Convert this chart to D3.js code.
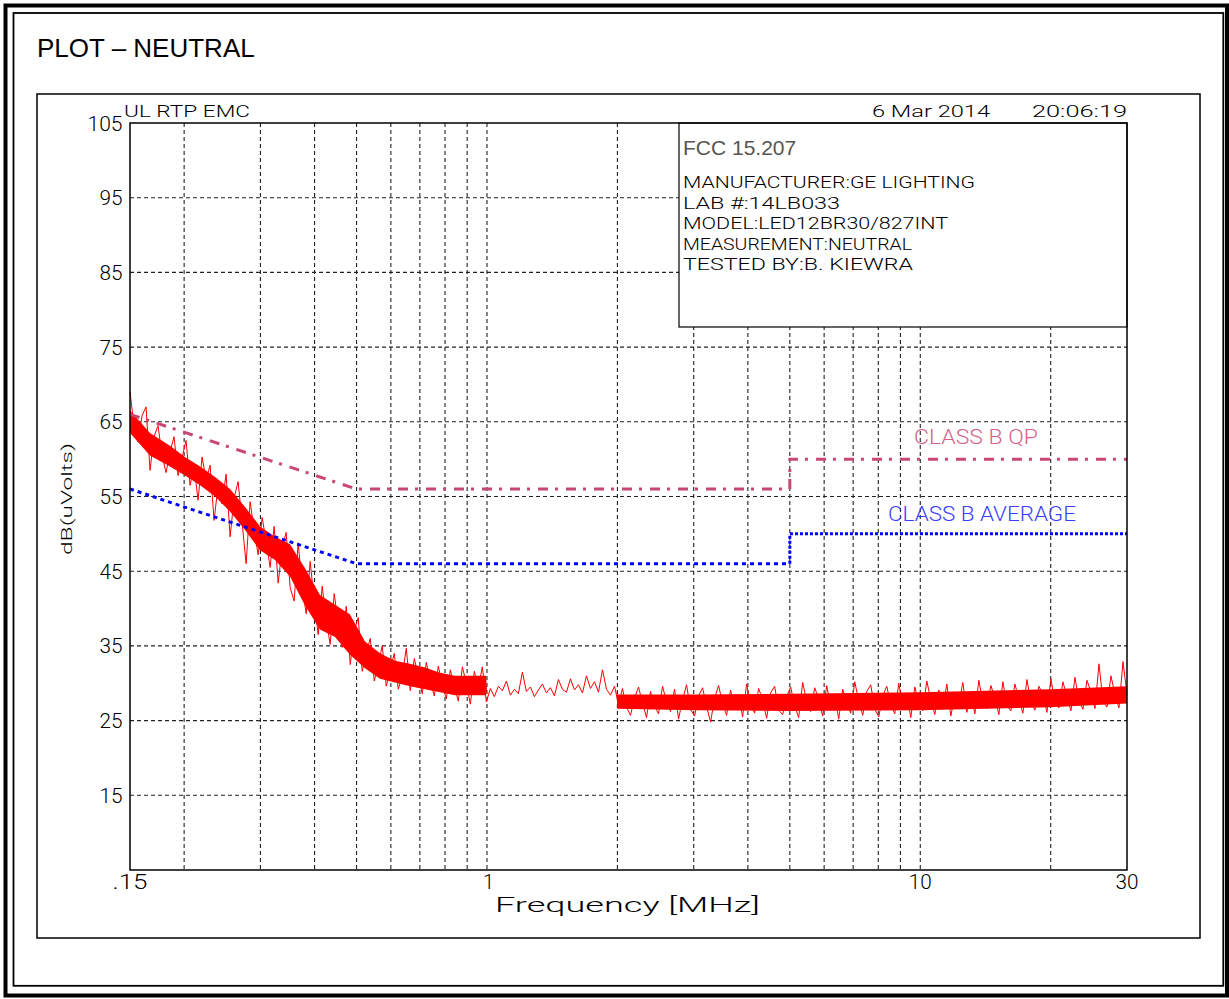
<!DOCTYPE html>
<html>
<head>
<meta charset="utf-8">
<script src="https://cdn.jsdelivr.net/npm/d3@7"></script>
<style>
  html, body { margin: 0; padding: 0; background: #fff; }
  svg { display: block; }
</style>
</head>
<body>
<svg id="chart"></svg>
<script>
const width = 1229;
const height = 999;

// axis ticks
const yTicks = [15, 25, 35, 45, 55, 65, 75, 85, 95, 105];
const xTickValues = [0.15, 1, 10, 30];
const xTickLabels = [".15", "1", "10", "30"];
const xGrid = [0.2, 0.3, 0.4, 0.5, 0.6, 0.7, 0.8, 0.9, 1, 2, 3, 4, 5, 6, 7, 8, 9, 10, 20];

// FCC 15.207 class B limits
const qpMHz = [0.15, 0.5, 5, 5, 30];
const qpDb = [66, 56, 56, 60, 60];
const avgMHz = [0.15, 0.5, 5, 5, 30];
const avgDb = [56, 46, 46, 50, 50];

// measured trace (peak detector), points spread over the sweep 0.15 - 30 MHz
const sweepStart = 0.15;
const sweepStop = 30;
const traceDb = [
  69, 64.5, 62.3, 65.8, 67, 58.5, 63, 64.5, 60.5, 58.2,
  61, 63, 57.8, 60.2, 62.5, 56.5, 59, 54.5, 60.3, 57.2,
  59.2, 51.8, 56.5, 54, 58, 49.6, 54.8, 57, 51.5, 46,
  54.3, 50.5, 47.2, 52.2, 49, 45.5, 51, 43.4, 48, 50.2,
  42.8, 41, 48.8, 43, 39.3, 46.3, 41, 36.5, 43, 38.5,
  35.2, 42, 38, 34.8, 40.3, 32.5, 37, 38.8, 31.6, 34,
  36, 30.3, 32.5, 35, 29.6, 31.8, 34, 29.2, 31, 34.7,
  29, 33.3, 31, 28.6, 32.8, 30.2, 28.3, 32.3, 29.8, 27.9,
  31.8, 29.5, 27.6, 32.2, 30, 27.2, 31.6, 29.4, 32.2, 27.5,
  29.3, 28.2, 29.6, 29, 30.3, 28.4, 29.2, 28.6, 31.5, 28.9,
  29.5, 28.2, 29.1, 29.9, 28.7, 29.4, 28.3, 30.5, 29.2, 28.8,
  30.6, 29.1, 29.8, 28.7, 31, 29.3, 30.2, 28.8, 31.8, 29.2,
  28.4, 29.6, 27.2, 29.3, 26.8, 25.7, 28, 29.5, 27.4, 25.4,
  28.9, 27, 25.9, 29.6, 27.5, 26.2, 29.2, 25.2, 27.8, 29.8,
  26.5, 25.6, 28.3, 29.4, 26.9, 24.8, 28, 29.7, 27.3, 25.7,
  29.1, 26.6, 28.5, 25.5, 29.9, 27.1, 26, 29.3, 27.8, 25.3,
  28.7, 29.6, 26.4, 25.8, 28.2, 29.5, 27, 25.4, 30.1, 27.6,
  26.2, 29.4, 27.9, 25.6, 29.7, 26.8, 28.4, 25.2, 29.2, 27.3,
  26, 30.2, 27.7, 25.7, 28.9, 29.8, 26.5, 25.5, 28.3, 29.6,
  27.2, 25.9, 30, 26.9, 28.6, 25.4, 29.5, 27.5, 26.3, 30.3,
  27.8, 25.8, 29.1, 26.7, 29.9, 25.6, 28.4, 27.2, 30.1, 26.1,
  28.8, 25.9, 30.4, 27.4, 26.6, 29.7, 28.1, 25.8, 30.2, 27,
  26.3, 29.9, 27.9, 26, 30.5, 27.5, 26.4, 29.6, 28.5, 26.1,
  30.6, 27.3, 26.7, 30.2, 28.2, 26.3, 30.8, 27.7, 26.5, 30.4,
  28.8, 26.6, 32.6, 27.6, 26.8, 31, 28.4, 26.7, 32.9, 28.5
];

// solid core of the trace
const bandMHz = [0.15, 0.1668, 0.1855, 0.2009, 0.2177, 0.2357, 0.2552, 0.2765, 0.2993, 0.3242,
                 0.351, 0.3802, 0.4117, 0.4459, 0.4829, 0.5229, 0.5663, 0.6132, 0.664, 0.7192,
                 0.7788, 0.8436, 0.9137, 0.995, 1.0, 1.99, 2.0, 3, 5, 10, 20, 30];
const bandLo = [63.5, 60.5, 59, 57.8, 56.5, 55, 53, 50.5, 47.8, 46.5, 44.3, 40.4, 37.2, 36.2, 33.8,
                32, 30.6, 30.1, 29.6, 29.2, 28.8, 28.4, 28.4, 28.4, 29, 29, 26.6, 26.4, 26.3,
                26.4, 26.8, 27.3];
const bandHi = [66.5, 63.5, 61.8, 60.3, 59, 57.6, 56, 53.6, 51, 49.6, 48.6, 45.4, 41.8, 40.5, 39.2,
                35.6, 34, 33, 32.6, 32.1, 31.4, 31, 31, 31, 29, 29, 28.5, 28.5, 28.6,
                28.8, 29.2, 29.6];

const infoLines = [
  "MANUFACTURER:GE LIGHTING",
  "LAB #:14LB033",
  "MODEL:LED12BR30/827INT",
  "MEASUREMENT:NEUTRAL",
  "TESTED BY:B. KIEWRA"
];

const PLOT_FONT = "Roboto, 'DejaVu Sans', sans-serif";
const ARIAL = "'Liberation Sans', Arial, sans-serif";

const svg = d3.select("#chart")
  .attr("width", width)
  .attr("height", height)
  .attr("viewBox", `0 0 ${width} ${height}`);

const x = d3.scaleLog().domain([0.15, 30]).range([130, 1127]);
const y = d3.scaleLinear().domain([5, 105]).range([870, 123]);

// plotter style text, stretched to the width it has on the plot
function plotText(sel, str, px, py, size, len, anchor) {
  let x0 = px;
  if (anchor === "end") x0 = px - len;
  if (anchor === "middle") x0 = px - len / 2;
  const t = sel.append("text")
    .attr("x", x0)
    .attr("y", py)
    .attr("font-family", PLOT_FONT)
    .attr("font-weight", 300)
    .attr("font-size", size)
    .text(str);
  if (str.length > 1) t.attr("textLength", len).attr("lengthAdjust", "spacingAndGlyphs");
  return t;
}

// page frames
svg.append("rect").attr("x", 5.5).attr("y", 5.5).attr("width", 1221.5).attr("height", 990)
  .attr("fill", "none").attr("stroke", "#000").attr("stroke-width", 4);
svg.append("rect").attr("x", 13.5).attr("y", 13).attr("width", 1209.8).attr("height", 972.8)
  .attr("fill", "none").attr("stroke", "#000").attr("stroke-width", 1.8);
svg.append("rect").attr("x", 37).attr("y", 94).attr("width", 1163).attr("height", 844)
  .attr("fill", "none").attr("stroke", "#000").attr("stroke-width", 1.5);

svg.append("text")
  .attr("x", 37).attr("y", 57)
  .attr("font-family", ARIAL).attr("font-size", 26)
  .text("PLOT \u2013 NEUTRAL");

const g = svg.append("g");

// grid
g.append("g").selectAll("line")
  .data(yTicks.filter(d => d < 105))
  .join("line")
  .attr("x1", x(0.15)).attr("x2", x(30))
  .attr("y1", d => y(d)).attr("y2", d => y(d))
  .attr("stroke", "#222").attr("stroke-width", 1.1).attr("stroke-dasharray", "4,3");

g.append("g").selectAll("line")
  .data(xGrid)
  .join("line")
  .attr("x1", d => x(d)).attr("x2", d => x(d))
  .attr("y1", y(105)).attr("y2", y(5))
  .attr("stroke", "#222").attr("stroke-width", 1.1).attr("stroke-dasharray", "4,3");

// info box
g.append("rect")
  .attr("x", 679).attr("y", y(105))
  .attr("width", x(30) - 679).attr("height", 204)
  .attr("fill", "#fff").attr("stroke", "#000").attr("stroke-width", 1.2);

g.append("text")
  .attr("x", 683).attr("y", 155)
  .attr("font-family", ARIAL).attr("font-size", 21).attr("fill", "#555")
  .text("FCC 15.207");

const infoLen = [292, 157, 265, 229, 230];
infoLines.forEach((s, i) => {
  plotText(g, s, 683, 188 + i * 20.5, 17, infoLen[i], "start");
});

// trace
const bandData = bandMHz.map((f, i) => ({ f, lo: bandLo[i], hi: bandHi[i] }));
g.append("path")
  .datum(bandData)
  .attr("fill", "#ff0000")
  .attr("d", d3.area().x(d => x(d.f)).y0(d => y(d.lo)).y1(d => y(d.hi)));

const n = traceDb.length;
const traceData = traceDb.map((v, i) => ({
  f: sweepStart * Math.pow(sweepStop / sweepStart, i / (n - 1)),
  v
}));
g.append("path")
  .datum(traceData)
  .attr("fill", "none")
  .attr("stroke", "#ff0000")
  .attr("stroke-width", 1)
  .attr("d", d3.line().x(d => x(d.f)).y(d => y(d.v)));

// limit lines
const limLine = d3.line().x(d => x(d[0])).y(d => y(d[1]));
function drawLimit(fs, vs, color, dashA, dashB) {
  const pts = fs.map((f, i) => [f, vs[i]]);
  g.append("path").attr("d", limLine(pts.slice(0, 3)))
    .attr("fill", "none").attr("stroke", color).attr("stroke-width", 3)
    .attr("stroke-dasharray", dashA);
  g.append("path").attr("d", limLine(pts.slice(2)))
    .attr("fill", "none").attr("stroke", color).attr("stroke-width", 3)
    .attr("stroke-dasharray", dashB);
}
drawLimit(qpMHz, qpDb, "#c84870", "10,7,3,8", "10,7,3,8");
drawLimit(avgMHz, avgDb, "#0000ff", "4,4", "3,2");

plotText(g, "CLASS B QP", 914, 444, 21, 124, "start").attr("fill", "#d4648a");
plotText(g, "CLASS B AVERAGE", 888, 521, 21, 188, "start").attr("fill", "#3c3cff");

// plot frame
g.append("rect")
  .attr("x", x(0.15)).attr("y", y(105))
  .attr("width", x(30) - x(0.15)).attr("height", y(5) - y(105))
  .attr("fill", "none").attr("stroke", "#000").attr("stroke-width", 1.5);

// tick labels
yTicks.forEach(v => {
  const s = String(v);
  plotText(g, s, 122.5, y(v) + 7.5, 21, s.length * 12 - 1, "end");
});
xTickValues.forEach((v, i) => {
  const s = xTickLabels[i];
  const t = plotText(g, s, x(v), 888.5, 20, s.length * 12 - 1, "middle");
  if (s.length === 1) t.attr("x", x(v) - 4);
});

// headers and axis titles
plotText(svg, "UL RTP EMC", 124, 117, 17, 126, "start");
plotText(svg, "6 Mar 2014", 872, 117, 17, 118, "start");
plotText(svg, "20:06:19", 1032, 117, 17, 95, "start");
plotText(svg, "Frequency [MHz]", 495, 912, 21, 265, "start");

svg.append("g")
  .attr("transform", "translate(72,499) rotate(-90)")
  .call(sel => plotText(sel, "dB(uVolts)", 0, 0, 15, 112, "middle"));
</script>
</body>
</html>
